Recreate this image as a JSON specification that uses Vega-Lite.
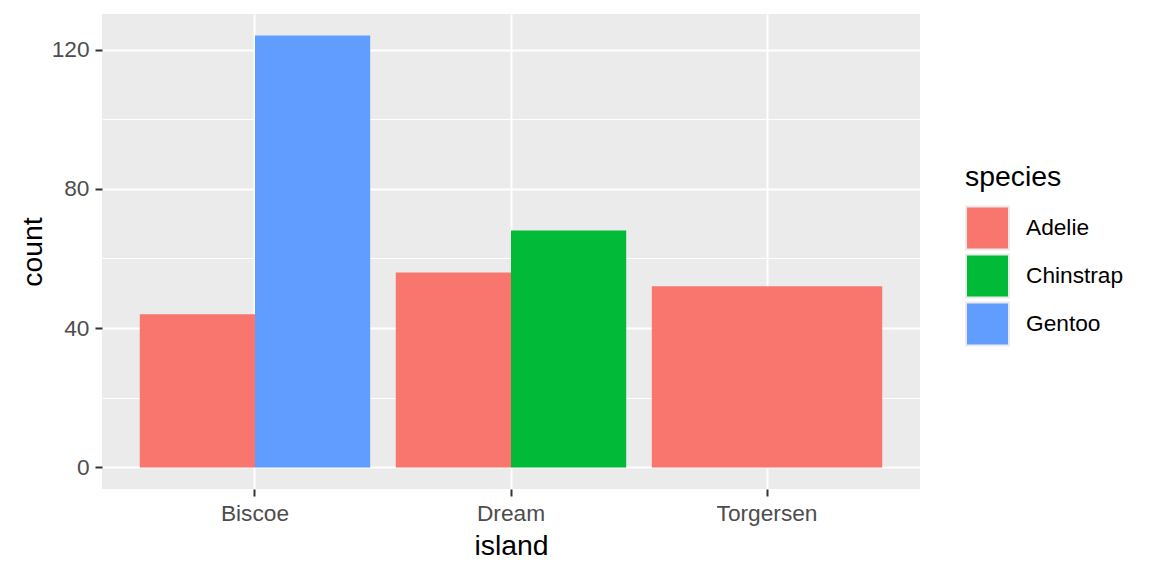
{
  "$schema": "https://vega.github.io/schema/vega-lite/v6.json",
  "width": 818,
  "height": 475,
  "autosize": "none",
  "padding": {"left": 102, "top": 14, "right": 232, "bottom": 87},
  "background": "white",
  "data": {
    "values": [
      {"island": "Biscoe", "species": "Adelie", "count": 44},
      {"island": "Biscoe", "species": "Gentoo", "count": 124},
      {"island": "Dream", "species": "Adelie", "count": 56},
      {"island": "Dream", "species": "Chinstrap", "count": 68},
      {"island": "Torgersen", "species": "Adelie", "count": 52}
    ]
  },
  "encoding": {
    "x": {
      "field": "island",
      "type": "nominal",
      "scale": {"paddingInner": 0.1, "paddingOuter": 0.1475},
      "axis": {
        "title": "island",
        "labelAngle": 0,
        "grid": true,
        "gridColor": "white",
        "gridWidth": 2,
        "bandPosition": 0.5,
        "domain": false,
        "tickColor": "#333333",
        "tickWidth": 2,
        "tickSize": 7,
        "labelPadding": 6,
        "labelFontSize": 22.7,
        "labelColor": "#4D4D4D",
        "titleFontSize": 28.4,
        "titlePadding": 8
      }
    },
    "y": {
      "field": "count",
      "type": "quantitative",
      "scale": {"domain": [-6.2, 130.2], "nice": false, "zero": false},
      "axis": {
        "title": "count",
        "values": [0, 40, 80, 120],
        "grid": true,
        "gridColor": "white",
        "gridWidth": 2,
        "domain": false,
        "tickColor": "#333333",
        "tickWidth": 2,
        "tickSize": 7,
        "labelPadding": 6,
        "labelFontSize": 22.7,
        "labelColor": "#4D4D4D",
        "titleFontSize": 28.4,
        "titlePadding": 4
      }
    },
    "y2": {"datum": 0},
    "color": {
      "field": "species",
      "type": "nominal",
      "scale": {
        "domain": ["Adelie", "Chinstrap", "Gentoo"],
        "range": ["#F8766D", "#00BA38", "#619CFF"]
      },
      "legend": {
        "title": "species",
        "orient": "none",
        "legendX": 863,
        "legendY": 150,
        "symbolType": "square",
        "symbolSize": 1849,
        "symbolStrokeColor": "#EBEBEB",
        "symbolStrokeWidth": 2,
        "symbolOpacity": 1,
        "rowPadding": -6,
        "labelOffset": 16,
        "labelFontSize": 22.7,
        "labelColor": "black",
        "titleFontSize": 28.4,
        "titleFontWeight": "normal",
        "titlePadding": 13
      }
    }
  },
  "layer": [
    {
      "transform": [
        {"filter": "datum.island != 'Torgersen'"},
        {
          "window": [{"op": "row_number", "as": "slot"}],
          "groupby": ["island"],
          "sort": [{"field": "species"}]
        }
      ],
      "mark": {"type": "bar"},
      "encoding": {
        "xOffset": {
          "field": "slot",
          "type": "ordinal",
          "scale": {"paddingInner": 0, "paddingOuter": 0}
        }
      }
    },
    {
      "transform": [{"filter": "datum.island == 'Torgersen'"}],
      "mark": {"type": "bar"},
      "encoding": {
        "y": {
          "field": "count",
          "type": "quantitative",
          "axis": {
            "orient": "left",
            "title": null,
            "values": [20, 60, 100],
            "grid": true,
            "gridColor": "white",
            "gridWidth": 1,
            "labels": false,
            "ticks": false,
            "domain": false
          }
        }
      }
    }
  ],
  "resolve": {"axis": {"y": "independent"}},
  "config": {
    "font": "Liberation Sans",
    "view": {"fill": "#EBEBEB", "stroke": null},
    "axis": {"titleFontWeight": "normal", "titleColor": "black"},
    "legend": {"labelFont": "Liberation Sans", "titleFont": "Liberation Sans"}
  }
}
